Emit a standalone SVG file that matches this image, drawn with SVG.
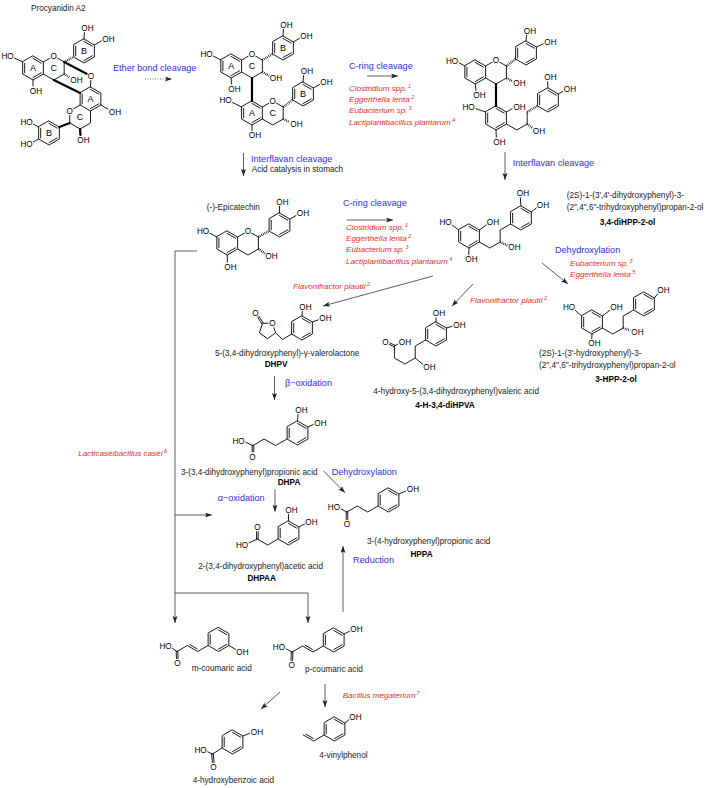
<svg xmlns="http://www.w3.org/2000/svg" width="708" height="788" viewBox="0 0 708 788">
<defs>
<style>
.b{fill:none;stroke:#000;stroke-width:0.9;stroke-linecap:round;stroke-linejoin:round}
.h{fill:none;stroke:#000;stroke-width:2.4;stroke-dasharray:0.7 1.1}
.w{fill:none;stroke:#000;stroke-width:2.2;stroke-linecap:round}
text{font-family:"Liberation Sans",Arial,Helvetica,sans-serif}
.lb{font-size:8.2px;fill:#000;stroke:#fff;stroke-width:2;paint-order:stroke;stroke-linejoin:round}
.t{font-size:8.2px;fill:#1a1a1a}
.tb{font-size:8.2px;font-weight:bold;fill:#000;text-anchor:middle}
.rl{font-size:9px;fill:#000;text-anchor:middle}
.bl{font-size:9.1px;fill:#2e2ee6}
.rd{font-size:8.1px;font-style:italic;fill:#ee2b2b}
.ar{fill:none;stroke:#333;stroke-width:0.8;marker-end:url(#ah)}
.ln{fill:none;stroke:#333;stroke-width:0.8}
.m{text-anchor:middle}
.e{text-anchor:end}
</style>
<marker id="ah" markerUnits="userSpaceOnUse" markerWidth="8" markerHeight="6" refX="7" refY="2.5" orient="auto"><path d="M0,0 L7,2.5 L0,5 L1.6,2.5 z" fill="#222"/></marker>
<g id="r1" fill="none" stroke="#000" stroke-width="0.9" stroke-linejoin="round" stroke-linecap="round"><polygon points="0,-12 10.39,-6 10.39,6 0,12 -10.39,6 -10.39,-6"/><path d="M0,-9.6 L8.31,-4.8 M8.31,4.8 L0,9.6 M-8.31,4.8 L-8.31,-4.8"/></g>
</defs>
<rect width="708" height="788" fill="#fff"/>

<g id="procyanidin-a2">
<text class="t" x="31" y="10.5">Procyanidin A2</text>
<use href="#r1" x="33" y="68"/>
<use href="#r1" x="84" y="51"/>
<use href="#r1" x="90.5" y="99"/>
<use href="#r1" x="49" y="133"/>
<path class="b" d="M43.39,62 L50.3,58 M57.3,58 L64.17,62 L64.17,74 L53.78,80 L43.39,74 M22.61,62 L14.5,58 M33,80 L33,86 M84,39 L84.4,32.5 M94.39,45 L101.6,40.7 M90.8,80.5 L90.5,87 M100.89,105 L108.1,109.2 M80.11,105 L73.6,108.75 M69.72,115.5 L69.72,123 L80.11,129 L90.5,123 L90.5,111 M38.61,127 L33.4,124.2 M38.61,139 L33.4,141.8"/>
<path class="h" d="M64.17,74 L69.7,77.6 M64.17,62 L73.61,57"/>
<path class="w" d="M64.17,62 L87,73.9 M53.78,80 L80.11,93 M80.11,129 L80.4,135 M69.72,123 L59.39,127"/>
<text class="rl" x="33" y="71.2">A</text><text class="rl" x="53.78" y="71.2">C</text><text class="rl" x="84" y="54.2">B</text>
<text class="rl" x="90.5" y="102.2">A</text><text class="rl" x="80.11" y="120.2">C</text><text class="rl" x="49" y="136.2">B</text>
<text class="lb m" x="53.78" y="59">O</text><text class="lb m" x="91" y="79">O</text><text class="lb m" x="69.72" y="114">O</text>
<text class="lb e" x="13.7" y="59">HO</text><text class="lb" x="29.8" y="93.5">OH</text><text class="lb" x="70.3" y="83">OH</text>
<text class="lb" x="81.3" y="31">OH</text><text class="lb" x="102.3" y="41.5">OH</text><text class="lb" x="108.8" y="114.5">OH</text>
<text class="lb" x="77.3" y="142.5">OH</text><text class="lb e" x="32.7" y="125">HO</text><text class="lb e" x="32.7" y="147">HO</text>
</g>

<g id="procyanidin-b2">
<use href="#r1" x="231.2" y="66"/>
<use href="#r1" x="283" y="48"/>
<use href="#r1" x="251.98" y="113"/>
<use href="#r1" x="303" y="94"/>
<path class="b" d="M241.59,60 L248.5,56 M255.4,56 L262.37,60 L262.37,72 L251.98,78 L241.59,72 M220.81,60 L213.5,56.1 M231.2,78 L231.4,84 M283,36 L283.4,29.5 M293.39,42 L299.6,38.3 M262.37,107 L269.3,103 M276.2,103 L283.15,107 L283.15,119 L272.76,125 L262.37,119 M241.59,107 L232.5,102.5 M251.98,125 L252,130.5 M303,82 L303.6,75.5 M313.39,88 L319.6,84.5"/>
<path class="h" d="M262.37,72 L269.1,75.8 M262.37,60 L272.61,54 M283.15,119 L289.5,122 M283.15,107 L292.61,100"/>
<path class="w" d="M251.98,78 L251.98,101"/>
<text class="rl" x="231.2" y="69.2">A</text><text class="rl" x="251.98" y="69.2">C</text><text class="rl" x="283" y="51.2">B</text>
<text class="rl" x="251.98" y="116.2">A</text><text class="rl" x="272.76" y="116.2">C</text><text class="rl" x="303" y="97.2">B</text>
<text class="lb m" x="251.98" y="57">O</text><text class="lb m" x="272.76" y="104">O</text>
<text class="lb e" x="212.7" y="57">HO</text><text class="lb" x="228.3" y="91.5">OH</text><text class="lb" x="269.8" y="81">OH</text>
<text class="lb" x="280.3" y="28">OH</text><text class="lb" x="300.3" y="39">OH</text>
<text class="lb e" x="231.7" y="103">HO</text><text class="lb" x="248.8" y="138">OH</text><text class="lb" x="290.3" y="127">OH</text>
<text class="lb" x="300.8" y="74">OH</text><text class="lb" x="320.3" y="85.3">OH</text>
</g>

<g id="c-ring-cleaved-dimer">
<use href="#r1" x="475.22" y="72"/>
<use href="#r1" x="526" y="53"/>
<use href="#r1" x="496" y="118"/>
<use href="#r1" x="547.95" y="100"/>
<path class="b" d="M485.61,66 L492.5,62 M499.5,62 L506.39,66 L506.39,78 L496,84 L485.61,78 M464.83,66 L458.9,62.7 M475.22,84 L476,90.5 M526,41 L526.6,35 M536.39,47 L543.4,43.8 M485.61,112 L475.8,108.7 M506.39,112 L512.2,108.7 M496,130 L496.3,137.2 M506.39,124 L516.78,130 L527.17,124 L527.17,112 M547.95,88 L547.6,81.8 M558.34,94 L563,91.4"/>
<path class="h" d="M506.39,78 L512.5,81.2 M506.39,66 L515.61,59 M527.17,124 L532.4,128 M527.17,112 L537.56,106"/>
<path class="w" d="M496,84 L496,106"/>
<text class="lb m" x="496" y="63">O</text>
<text class="lb e" x="458.2" y="63.5">HO</text><text class="lb" x="473.3" y="98">OH</text><text class="lb" x="513.3" y="86.3">OH</text>
<text class="lb" x="523.8" y="33.5">OH</text><text class="lb" x="544.3" y="45">OH</text>
<text class="lb e" x="474.7" y="110.3">HO</text><text class="lb" x="513.3" y="110.3">OH</text><text class="lb" x="493.3" y="144.7">OH</text>
<text class="lb" x="532.8" y="133.7">OH</text><text class="lb" x="544.3" y="80.3">OH</text><text class="lb" x="563.8" y="92.3">OH</text>
</g>

<g id="epicatechin">
<text class="t" x="206.7" y="209.7">(-)-Epicatechin</text>
<use href="#r1" x="227.22" y="243"/>
<use href="#r1" x="279.5" y="225"/>
<path class="b" d="M237.61,237 L244.5,233 M251.5,233 L258.39,237 L258.39,249 L248,255 L237.61,249 M216.83,237 L209.9,233.2 M227.22,255 L227.4,262.2 M279.5,213 L279.5,206.2 M289.89,219 L296.1,215.5"/>
<path class="h" d="M258.39,249 L264.8,253.4 M258.39,237 L269.11,231"/>
<text class="lb m" x="248" y="234">O</text>
<text class="lb e" x="209.2" y="234">HO</text><text class="lb" x="224.3" y="269.7">OH</text><text class="lb" x="265.3" y="259">OH</text>
<text class="lb" x="276.3" y="204.7">OH</text><text class="lb" x="296.8" y="216.3">OH</text>
</g>

<g id="diHPP">
<use href="#r1" x="469" y="236"/>
<use href="#r1" x="520.95" y="218"/>
<path class="b" d="M458.61,230 L452.1,225 M479.39,230 L486.4,224.9 M469,248 L468.7,254.5 M479.39,242 L489.78,248 L500.17,242 L500.17,230 L510.56,224 M520.95,206 L520.3,197.8 M531.34,212 L536.5,207.8"/>
<path class="h" d="M500.17,242 L507.4,245.4"/>
<text class="lb e" x="451.7" y="225.3">HO</text><text class="lb" x="486.8" y="225.3">OH</text><text class="lb" x="465.3" y="262">OH</text>
<text class="lb" x="508.3" y="250.3">OH</text><text class="lb" x="516.8" y="196.3">OH</text><text class="lb" x="536.8" y="208">OH</text>
<text class="t" x="566.7" y="198">(2S)-1-(3',4'-dihydroxyphenyl)-3-</text>
<text class="t" x="566.7" y="210">(2",4",6"-trihydroxyphenyl)propan-2-ol</text>
<text class="tb" x="627.5" y="224.7">3,4-diHPP-2-ol</text>
</g>

<g id="HPP">
<use href="#r1" x="592" y="322"/>
<use href="#r1" x="643.95" y="304"/>
<path class="b" d="M581.61,316 L575.3,310.3 M602.39,316 L610,310.1 M592,334 L591.7,338.8 M602.39,328 L612.78,334 L623.17,328 L623.17,316 L633.56,310 M654.34,298 L657.8,293.6"/>
<path class="h" d="M623.17,328 L630.2,330.3"/>
<text class="lb e" x="575.2" y="310.3">HO</text><text class="lb" x="610.3" y="310.3">OH</text><text class="lb" x="588.3" y="346.3">OH</text>
<text class="lb" x="631.3" y="334.7">OH</text><text class="lb" x="657.3" y="293">OH</text>
<text class="t" x="539" y="355.7">(2S)-1-(3'-hydroxyphenyl)-3-</text>
<text class="t" x="539" y="368">(2",4",6"-trihydroxyphenyl)propan-2-ol</text>
<text class="tb" x="616" y="382">3-HPP-2-ol</text>
</g>

<g id="diHPVA">
<use href="#r1" x="436" y="334"/>
<path class="b" d="M436,322 L436,317.8 M446.39,328 L452.2,326.3 M425.61,340 L415.22,346 L415.22,358 L404.83,364 L394.44,358 L394.44,346 M415.22,358 L423,364.4 M394.09,346.72 L389.15,344.32 M394.79,345.28 L389.85,342.88 M394.44,346 L398.1,343.9"/>
<text class="lb" x="432.8" y="316.3">OH</text><text class="lb" x="453.3" y="328">OH</text><text class="lb" x="423.3" y="370.3">OH</text>
<text class="lb m" x="385.5" y="344.7">O</text><text class="lb" x="398.8" y="344.7">OH</text>
<text class="t" x="373.3" y="394">4-hydroxy-5-(3,4-dihydroxyphenyl)valeric acid</text>
<text class="tb" x="445" y="408.3">4-H-3,4-diHPVA</text>
</g>

<g id="DHPV">
<use href="#r1" x="302" y="328"/>
<path class="b" d="M268.5,323.3 L262.5,323.3 L259.4,332.8 L267.5,338.7 L275.6,332.8 L273.9,327.6 M275.6,332.8 L282.5,339.5 L291.61,334 M302,316 L302.3,311.2 M312.39,322 L318.3,319.8 M263.17,322.87 L258.67,315.87 M261.83,323.73 L257.33,316.73"/>
<text class="lb m" x="272.5" y="326.3">O</text><text class="lb m" x="255.5" y="315.5">O</text>
<text class="lb" x="299.3" y="309.7">OH</text><text class="lb" x="319.3" y="321.3">OH</text>
<text class="t" x="215" y="355.7">5-(3,4-dihydroxyphenyl)-γ-valerolactone</text>
<text class="tb" x="276" y="367.3">DHPV</text>
</g>

<g id="DHPA">
<use href="#r1" x="297.5" y="433"/>
<path class="b" d="M287.11,439 L275.5,445.5 L264,439 L253,445.5 M252.2,445.5 L252.2,452 M253.8,445.5 L253.8,452 M253,445.5 L245.6,442.3 M297.5,421 L298.1,414.5 M307.89,427 L313.4,424.5"/>
<text class="lb m" x="252.5" y="459.5">O</text><text class="lb e" x="244.7" y="443.5">HO</text>
<text class="lb" x="295.3" y="413">OH</text><text class="lb" x="314.3" y="425.7">OH</text>
<text class="t" x="181" y="475">3-(3,4-dihydroxyphenyl)propionic acid</text>
<text class="tb" x="289" y="485">DHPA</text>
</g>

<g id="DHPAA">
<use href="#r1" x="288.5" y="533"/>
<path class="b" d="M278.11,539 L267.72,545 L257.33,539 M256.53,539 L256.6,531.8 M258.13,539 L258.2,531.8 M257.33,539 L249,543 M288.5,521 L288.5,514.5 M298.89,527 L304.6,523.9"/>
<text class="lb m" x="257.5" y="530.3">O</text><text class="lb e" x="248.2" y="548">HO</text>
<text class="lb" x="285.3" y="513">OH</text><text class="lb" x="305.3" y="524.7">OH</text>
<text class="t" x="198.3" y="569">2-(3,4-dihydroxyphenyl)acetic acid</text>
<text class="tb" x="261.7" y="580.7">DHPAA</text>
</g>

<g id="HPPA">
<use href="#r1" x="388.5" y="500"/>
<path class="b" d="M378.11,506 L367.72,512 L357.33,506 L346.94,512 M346.14,512 L346.2,519.5 M347.74,512 L347.8,519.5 M346.94,512 L340.8,508.8 M398.89,494 L405.9,491"/>
<text class="lb m" x="347" y="527">O</text><text class="lb e" x="340" y="509.7">HO</text><text class="lb" x="406.8" y="492.3">OH</text>
<text class="t" x="367" y="544">3-(4-hydroxyphenyl)propionic acid</text>
<text class="tb" x="421.5" y="557.3">HPPA</text>
</g>

<g id="m-coumaric">
<use href="#r1" x="218.5" y="639.5"/>
<path class="b" d="M208.11,645.5 L197.72,651.5 L187.33,645.5 L176.94,651.5 M189.89,644.67 L197.16,648.87 M176.14,651.5 L176.5,658.8 M177.74,651.5 L178.1,658.8 M176.94,651.5 L172.2,648.2 M228.89,645.5 L235.6,649.4"/>
<text class="lb m" x="177.5" y="666.3">O</text><text class="lb e" x="171.7" y="648.7">HO</text><text class="lb" x="236.3" y="654.7">OH</text>
<text class="t" x="191.7" y="671.3">m-coumaric acid</text>
</g>

<g id="p-coumaric">
<use href="#r1" x="333.7" y="640"/>
<path class="b" d="M323.31,646 L312.92,652 L302.53,646 L292.14,652 M305.09,645.17 L312.36,649.37 M291.34,652 L291.05,660.5 M292.94,652 L292.65,660.5 M292.14,652 L285.8,648.8 M344.09,634 L349.5,631.3"/>
<text class="lb m" x="291.7" y="668">O</text><text class="lb e" x="285" y="649.7">HO</text><text class="lb" x="350.3" y="632.3">OH</text>
<text class="t" x="305" y="672.3">p-coumaric acid</text>
</g>

<g id="vinylphenol">
<use href="#r1" x="334.5" y="729"/>
<path class="b" d="M324.11,735 L313.72,741 L303.33,735 M305.89,734.17 L313.16,738.37 M344.89,723 L349,719.6"/>
<text class="lb" x="349.3" y="719.7">OH</text>
<text class="t" x="319.3" y="758">4-vinylphenol</text>
</g>

<g id="hydroxybenzoic">
<use href="#r1" x="232.5" y="742"/>
<path class="b" d="M222.11,748 L212.5,754 M211.7,754 L212.4,762.8 M213.3,754 L214,762.8 M212.5,754 L207.6,751.8 M242.89,736 L249.8,733.3"/>
<text class="lb m" x="213.5" y="770.3">O</text><text class="lb e" x="206.7" y="753">HO</text><text class="lb" x="250.8" y="734.7">OH</text>
<text class="t" x="192.7" y="783">4-hydroxybenzoic acid</text>
</g>

<g id="connectors">
<path class="ar" d="M145,79 L172,79" stroke-dasharray="1 1.5"/>
<path class="ar" d="M367,76 L398,76"/>
<path class="ar" d="M243.5,153 L243.5,176"/>
<path class="ar" d="M505,152 L505,180"/>
<path class="ar" d="M347,220 L393,220"/>
<path class="ar" d="M433,276 L323,306"/>
<path class="ar" d="M473,284 L452,306"/>
<path class="ar" d="M542,263 L568,284"/>
<path class="ar" d="M274.5,376 L274.5,400"/>
<path class="ar" d="M323.3,470.7 L345,492.7"/>
<path class="ar" d="M275,489.3 L275,511.7"/>
<path class="ln" d="M197,251 L175,251 L175,593 L308,593"/>
<path class="ar" d="M175,515 L212,515"/>
<path class="ar" d="M175,593 L175,623"/>
<path class="ar" d="M308,593 L308,623"/>
<path class="ar" d="M343,612 L343,546"/>
<path class="ar" d="M325,684 L325,707"/>
<path class="ar" d="M280,692 L261,709"/>
</g>

<g id="reaction-labels">
<text class="bl" x="113" y="71">Ether bond cleavage</text>
<text class="bl" x="349" y="69.3">C-ring cleavage</text>
<text class="rd" x="349" y="91.3">Clostridium spp.<tspan dx="1" dy="-3" font-size="5.5">1</tspan></text>
<text class="rd" x="349" y="102.3">Eggerthella lenta<tspan dx="1.5" dy="-3" font-size="5.5">2</tspan></text>
<text class="rd" x="349" y="113">Eubacterium sp.<tspan dx="1" dy="-3" font-size="5.5">3</tspan></text>
<text class="rd" x="349" y="124.7">Lactiplantibacillus plantarum<tspan dx="1.5" dy="-3" font-size="5.5">4</tspan></text>
<text class="bl" x="251" y="162">Interflavan cleavage</text>
<text class="t" x="251.7" y="172">Acid catalysis in stomach</text>
<text class="bl" x="512.7" y="165.5">Interflavan cleavage</text>
<text class="bl" x="343" y="206">C-ring cleavage</text>
<text class="rd" x="346" y="229.7">Clostridium spp.<tspan dx="1" dy="-3" font-size="5.5">1</tspan></text>
<text class="rd" x="346" y="241.3">Eggerthella lenta<tspan dx="1.5" dy="-3" font-size="5.5">2</tspan></text>
<text class="rd" x="346" y="252.3">Eubacterium sp.<tspan dx="1" dy="-3" font-size="5.5">3</tspan></text>
<text class="rd" x="346" y="264">Lactiplantibacillus plantarum<tspan dx="1.5" dy="-3" font-size="5.5">4</tspan></text>
<text class="bl" x="555" y="252.5">Dehydroxylation</text>
<text class="rd" x="570" y="265.7">Eubacterium sp.<tspan dx="1" dy="-3" font-size="5.5">3</tspan></text>
<text class="rd" x="570" y="277.3">Eggerthella lenta<tspan dx="1.5" dy="-3" font-size="5.5">5</tspan></text>
<text class="rd" x="293" y="289">Flavonifractor plautii<tspan dx="1.5" dy="-3" font-size="5.5">2</tspan></text>
<text class="rd" x="470" y="303">Flavonifractor plautii<tspan dx="1.5" dy="-3" font-size="5.5">2</tspan></text>
<text class="bl" x="285" y="386">β−oxidation</text>
<text class="bl" x="331.7" y="475">Dehydroxylation</text>
<text class="bl" x="217.7" y="501">α−oxidation</text>
<text class="bl" x="353" y="563">Reduction</text>
<text class="rd" x="78.3" y="456.3">Lacticaseibacillus casei<tspan dx="1.5" dy="-3" font-size="5.5">6</tspan></text>
<text class="rd" x="342.7" y="698">Bacillus megaterium<tspan dx="1" dy="-3" font-size="5.5">7</tspan></text>
</g>
</svg>
